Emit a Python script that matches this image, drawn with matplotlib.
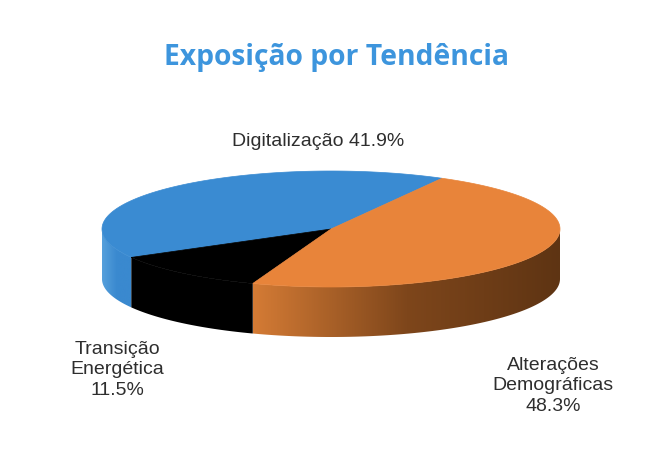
import numpy as np
import matplotlib.pyplot as plt
from matplotlib.patches import Polygon
from matplotlib.colors import LinearSegmentedColormap

# slice data (order counter-clockwise from the start angle)
labels = ['Digitalização', 'Transição\nEnergética', 'Alterações\nDemográficas']
values = [41.9, 11.5, 48.3]
top_colors = ['#3a8bd2', '#000000', '#e8843a']
side_colors = [['#56a0dc', '#3a89cf', '#3a89cf'],
               ['#000000', '#000000', '#000000'],
               ['#d47b35', '#7e461b', '#5e3413']]
title = 'Exposição por Tendência'

# pie geometry in pixel space
cx, cy = 331, 229
rx, ry = 229, 58
depth = 50
start = 61.0

fig = plt.figure(figsize=(6.69, 4.58), dpi=100)
ax = fig.add_axes([0, 0, 1, 1])
ax.set_xlim(0, 669)
ax.set_ylim(458, 0)
ax.axis('off')

def pt(t, dz=0):
    r = np.radians(t)
    return cx + rx * np.cos(r), cy - ry * np.sin(r) + dz

total = sum(values)
spans = [v / total * 360 for v in values]
bounds = []
a = start
for s in spans:
    bounds.append((a, a + s))
    a += s

# side walls (front half only: angles 180..360)
for (a0, a1), cols in zip(bounds, side_colors):
    for off in (0, 360, -360):
        lo = max(a0 + off, 180)
        hi = min(a1 + off, 360)
        if hi <= lo:
            continue
        ts = np.linspace(lo, hi, 120)
        top = [pt(t) for t in ts]
        bot = [pt(t, depth) for t in ts[::-1]]
        poly = Polygon(top + bot, closed=True, facecolor='none', edgecolor='none')
        ax.add_patch(poly)
        xs = [p[0] for p in top]
        x0, x1 = min(xs), max(xs)
        cmap = LinearSegmentedColormap.from_list('side', cols)
        grad = np.linspace(0, 1, 256).reshape(1, -1)
        im = ax.imshow(grad, cmap=cmap, aspect='auto',
                       extent=[x0, x1, cy + ry + depth + 2, cy - 5], zorder=1)
        im.set_clip_path(poly)

# top faces
for (a0, a1), col in zip(bounds, top_colors):
    ts = np.linspace(a0, a1, 200)
    verts = [(cx, cy)] + [pt(t) for t in ts]
    ax.add_patch(Polygon(verts, closed=True, facecolor=col, edgecolor=col,
                         linewidth=0.5, zorder=2))

# labels
txt = dict(fontsize=14, color='#2e2e2e', family='Liberation Sans',
           ha='center', va='center', linespacing=1.25)
ax.text(318, 142, f'{labels[0]} {values[0]}%', **txt)
ax.text(117, 370, f'{labels[1]}\n{values[1]}%', **txt)
ax.text(553, 386, f'{labels[2]}\n{values[2]}%', **txt)

ax.text(336, 58, title, fontsize=20.3, color='#3d95dd', fontweight='bold',
        family='Open Sans', ha='center', va='center')

fig.savefig('out.png', dpi=100, facecolor='white')
